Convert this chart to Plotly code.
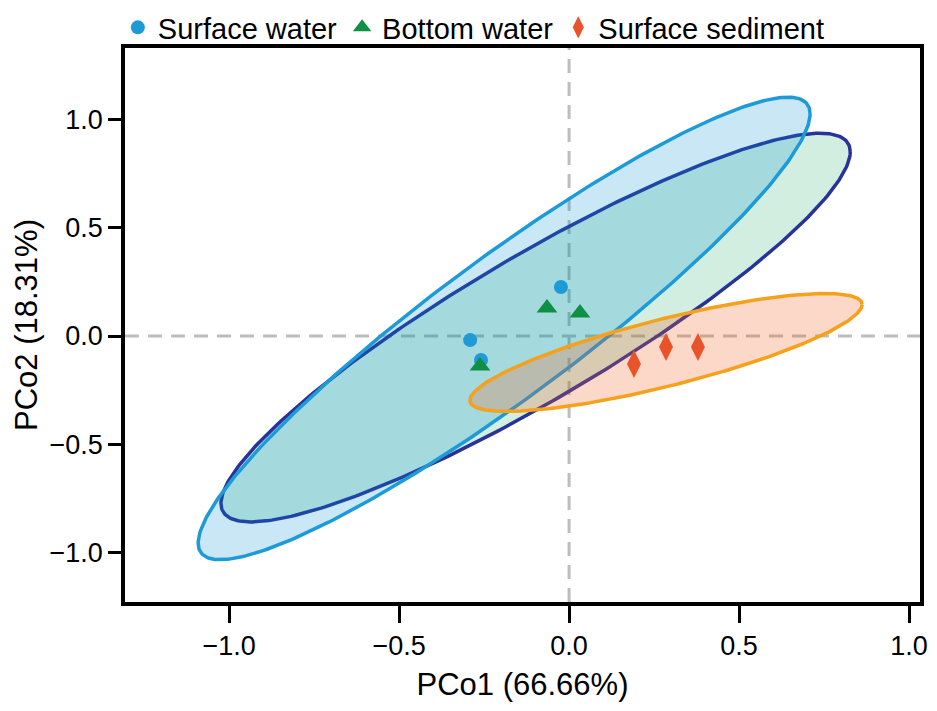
import numpy as np
import plotly.graph_objects as go

# ---- data ----
groups = ["Surface water", "Bottom water", "Surface sediment"]

sw_x = [-0.291, -0.259, -0.024]
sw_y = [-0.019, -0.111, 0.227]
bw_x = [-0.262, -0.065, 0.032]
bw_y = [-0.139, 0.130, 0.106]
ss_x = [0.191, 0.285, 0.379]
ss_y = [-0.130, -0.051, -0.051]

# ellipse centres and shape matrices (var_x, var_y, cov_xy) in data units
ell_cx = [-0.191, -0.0985, 0.285]
ell_cy = [0.035, 0.039, -0.076]
ell_sxx = [0.8096, 0.8563, 0.3326]
ell_syy = [1.1454, 0.8087, 0.0745]
ell_sxy = [0.8934, 0.7524, 0.1277]

x_ticks = [-1.0, -0.5, 0.0, 0.5, 1.0]
y_ticks = [-1.0, -0.5, 0.0, 0.5, 1.0]

# ---- styles ----
pt_colors = ["#1e9bd7", "#0e8f44", "#e8532a"]
symbols = ["circle", "triangle-up", "diamond-tall"]
sizes = [14, 18, 20]
line_colors = ["#1d9ad8", "#26339a", "#f5a11c"]
fill_colors = ["rgba(0,140,210,0.21)", "rgba(10,165,95,0.19)", "rgba(242,101,34,0.25)"]

FONT = "Liberation Sans, Arial, sans-serif"

fig = go.Figure()

t = np.linspace(0, 2 * np.pi, 361)
circ = np.vstack([np.cos(t), np.sin(t)])
order = [1, 0, 2]  # draw bottom-water ellipse first
for i in order:
    S = np.array([[ell_sxx[i], ell_sxy[i]], [ell_sxy[i], ell_syy[i]]])
    L = np.linalg.cholesky(S)
    pts = L @ circ
    fig.add_trace(go.Scatter(
        x=ell_cx[i] + pts[0], y=ell_cy[i] + pts[1],
        mode="lines", fill="toself", fillcolor=fill_colors[i],
        line=dict(color=line_colors[i], width=3.5),
        showlegend=False, hoverinfo="skip"))

xs = [sw_x, bw_x, ss_x]
ys = [sw_y, bw_y, ss_y]
for i, g in enumerate(groups):
    fig.add_trace(go.Scatter(
        x=xs[i], y=ys[i], mode="markers", name=g,
        marker=dict(symbol=symbols[i], size=sizes[i], color=pt_colors[i],
                    line=dict(width=0))))

dash_style = dict(color="#bdbdbd", width=3, dash="14px,9px")
fig.add_shape(type="line", xref="x", yref="paper", x0=0, x1=0, y0=0, y1=1,
              line=dash_style, layer="below")
fig.add_shape(type="line", xref="paper", yref="y", x0=0, x1=1, y0=0, y1=0,
              line=dash_style, layer="below")

axis_common = dict(
    showgrid=False, zeroline=False, showline=True, linecolor="black",
    linewidth=3.5, mirror=True, ticks="outside", tickcolor="black", tickwidth=3,
    tickfont=dict(family=FONT, size=27, color="black"), tickformat=".1f")

fig.update_xaxes(range=[-1.306, 1.032], tickvals=x_ticks, ticklen=17,
                 title=dict(text="PCo1 (66.66%)", font=dict(family=FONT, size=31, color="black"), standoff=14),
                 **axis_common)
fig.update_yaxes(range=[-1.231, 1.333], tickvals=y_ticks, ticklen=13,
                 title=dict(text="PCo2 (18.31%)", font=dict(family=FONT, size=31, color="black"), standoff=4),
                 **axis_common)

fig.update_layout(
    width=937, height=711,
    margin=dict(l=125, r=17, t=48, b=109, autoexpand=False),
    plot_bgcolor="white", paper_bgcolor="white",
    font=dict(family=FONT, size=27, color="black"),
    legend=dict(orientation="h", x=-0.009, xanchor="left", y=1.083, yanchor="top",
                font=dict(family=FONT, size=29, color="black"),
                itemwidth=30, tracegroupgap=0, bgcolor="rgba(0,0,0,0)"),
)

fig.write_html("out.html")
